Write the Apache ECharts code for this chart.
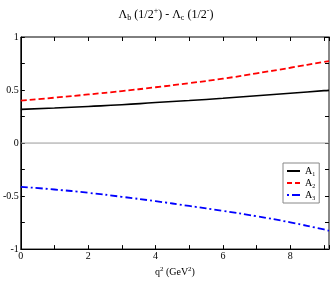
<!DOCTYPE html>
<html><head><meta charset="utf-8">
<script src="https://cdn.jsdelivr.net/npm/echarts@6/dist/echarts.min.js"></script>
<style>html,body{margin:0;padding:0;background:#fff}#c{width:332px;height:282px}</style>
</head><body><div id="c"></div>
<script>
const q2 = [0, 1, 2, 3, 4, 5, 6, 7, 8, 9, 9.15];
const A1 = [0.318, 0.330, 0.345, 0.361, 0.382, 0.401, 0.422, 0.446, 0.470, 0.494, 0.497];
const A2 = [0.400, 0.428, 0.458, 0.490, 0.526, 0.565, 0.607, 0.657, 0.710, 0.765, 0.773];
const A3 = [-0.413, -0.438, -0.469, -0.507, -0.548, -0.593, -0.640, -0.690, -0.748, -0.815, -0.827];
const seriesNames = ['A1', 'A2', 'A3'];
const xTicks = [0, 2, 4, 6, 8];
const yTicks = [-1, -0.5, 0, 0.5, 1];

const font = 'Liberation Serif, Times New Roman, serif';
const rich = {
  n: {fontFamily: font, fontSize: 12, color: '#000'},
  sub: {fontFamily: font, fontSize: 8, color: '#000', verticalAlign: 'bottom', padding: [7, 0, 0, 0]},
  sup: {fontFamily: font, fontSize: 8, color: '#000', verticalAlign: 'top', padding: [0, 0, 7, 0]}
};
const pairs = (ys) => q2.map((x, i) => [x, ys[i]]);
const zeroLine = [[q2[0], 0], [q2[q2.length - 1], 0]];
const chart = echarts.init(document.getElementById('c'), null, {renderer: 'canvas'});
const lineCommon = {type: 'line', showSymbol: false, symbol: 'none', smooth: true};
chart.setOption({
  animation: false,
  backgroundColor: '#fff',
  title: {
    text: '{n|Λ}{sub|b}{n| (1/2}{sup|+}{n|) - Λ}{sub|c}{n| (1/2}{sup|-}{n|)}',
    left: 'center', top: 2,
    textStyle: {rich: rich, fontFamily: font, fontSize: 12, fontWeight: 'normal'}
  },
  grid: {left: 17, right: 2, top: 37, bottom: 24, show: true, borderColor: '#000', borderWidth: 1},
  legend: {
    orient: 'vertical', left: 283, top: 163,
    itemWidth: 13, itemHeight: 2, itemGap: 1,
    padding: [3, 4, 2, 4],
    borderColor: '#888', borderWidth: 1,
    data: [
      {name: 'A1', icon: 'path://M0,0h13v2h-13z'},
      {name: 'A2', icon: 'path://M0,0h5v2h-5zM8,0h5v2h-5z'},
      {name: 'A3', icon: 'path://M0,0h2v2h-2zM5,0h8v2h-8z'}
    ],
    formatter: (n) => '{l|A}{s|' + n.slice(1) + '}',
    textStyle: {rich: {
      l: {fontFamily: font, fontSize: 10, color: '#000', lineHeight: 12},
      s: {fontFamily: font, fontSize: 6, color: '#000', verticalAlign: 'bottom', padding: [5, 0, 0, 0]}
    }}
  },
  xAxis: [{
    type: 'value', min: 0, max: 9.15, interval: 1,
    name: '{n|q}{sup|2}{n| (GeV}{sup|2}{n|)}', nameLocation: 'middle', nameGap: 12,
    nameTextStyle: {rich: {
      n: {fontFamily: font, fontSize: 10, color: '#000'},
      sup: {fontFamily: font, fontSize: 7, color: '#000', verticalAlign: 'top', padding: [0, 0, 5, 0]}
    }},
    axisLine: {onZero: false, lineStyle: {color: '#000'}},
    axisTick: {inside: true, length: 4, lineStyle: {color: '#000'}},
    axisLabel: {margin: 2, fontFamily: font, fontSize: 10, color: '#000',
      formatter: (v) => xTicks.includes(v) ? String(v) : ''},
    splitLine: {show: false}
  }, {
    type: 'value', position: 'top', min: 0, max: 9.15, interval: 1,
    axisLine: {show: false, onZero: false},
    axisTick: {show: true, inside: true, length: 4, lineStyle: {color: '#000'}},
    axisLabel: {show: false}, splitLine: {show: false}
  }],
  yAxis: [{
    type: 'value', min: -1, max: 1, interval: 0.25,
    axisLine: {onZero: false, lineStyle: {color: '#000'}},
    axisTick: {inside: true, length: 4, lineStyle: {color: '#000'}},
    axisLabel: {margin: 2, fontFamily: font, fontSize: 10, color: '#000',
      formatter: (v) => yTicks.includes(v) ? String(v) : ''},
    splitLine: {show: false}
  }, {
    type: 'value', position: 'right', min: -1, max: 1, interval: 0.25,
    axisLine: {show: true, onZero: false, lineStyle: {color: '#888', width: 2}},
    axisTick: {show: true, inside: true, length: 4, lineStyle: {color: '#000'}},
    axisLabel: {show: false}, splitLine: {show: false}
  }],
  series: [
    {type: 'line', name: 'zero', data: zeroLine, showSymbol: false, symbol: 'none', silent: true,
      z: 1, lineStyle: {color: '#999', width: 1}},
    Object.assign({}, lineCommon, {name: 'A1', data: pairs(A1),
      color: '#000', lineStyle: {color: '#000', width: 1.6, type: 'solid'}}),
    Object.assign({}, lineCommon, {name: 'A2', data: pairs(A2),
      color: '#ff0000', lineStyle: {color: '#ff0000', width: 1.8, type: [6, 3]}}),
    Object.assign({}, lineCommon, {name: 'A3', data: pairs(A3),
      color: '#0000ff', lineStyle: {color: '#0000ff', width: 1.8, type: [7, 3, 2, 3]}})
  ]
});
</script></body></html>
